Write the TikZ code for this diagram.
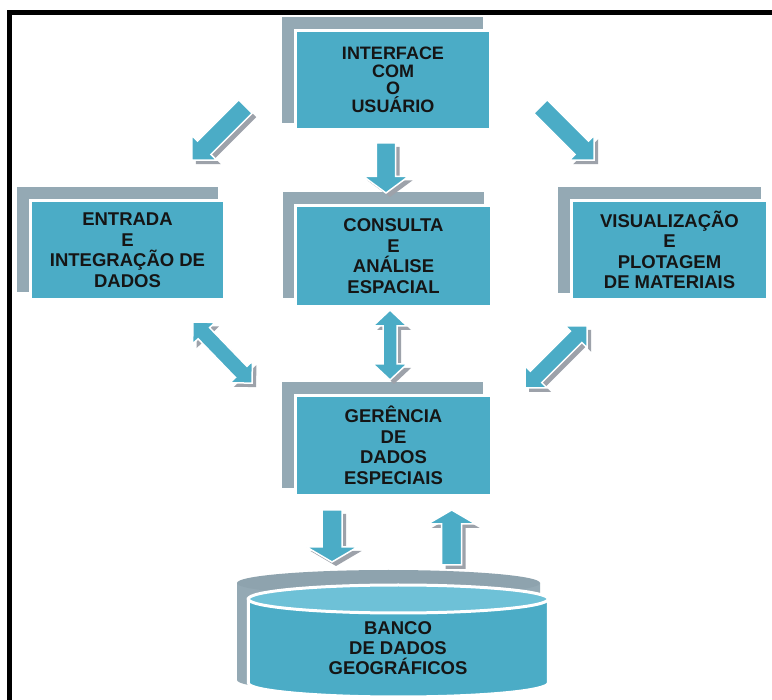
\documentclass[tikz,border=0pt]{standalone}
\usepackage{fontspec}
\setmainfont{Liberation Sans}
\definecolor{tealbox}{HTML}{4BACC6}
\definecolor{backgray}{HTML}{94A9B4}
\definecolor{backtop}{HTML}{8EA3AE}
\definecolor{shadowgray}{HTML}{9DA2AA}
\definecolor{toplight}{HTML}{6EC1D7}
\definecolor{txt}{HTML}{151515}
\tikzset{
  backbox/.style={fill=backgray},
  frontbox/.style={fill=tealbox, draw=white, line width=3pt, inner sep=0pt,
    align=center, text=txt, font=\bfseries\fontsize{18.5}{20.5}\selectfont},
  tightfont/.style={font=\bfseries\fontsize{18}{17.5}\selectfont},
  arrshadow/.style={fill=shadowgray},
  arrfront/.style={fill=tealbox, draw=white, line width=1.5pt},
  frame/.style={fill=black}
}
% single block arrow: x, y (tail centre), angle, length, shaft half-width, head half-width, head length
\newcommand\blkarrow[7]{%
  \fill[arrshadow, shift={(#1+4,#2+4)}, rotate=#3]
    (0,-#5) -- (#4-#7,-#5) -- (#4-#7,-#6) -- (#4,0) -- (#4-#7,#6) -- (#4-#7,#5) -- (0,#5) -- cycle;
  \filldraw[arrfront, shift={(#1,#2)}, rotate=#3]
    (0,-#5) -- (#4-#7,-#5) -- (#4-#7,-#6) -- (#4,0) -- (#4-#7,#6) -- (#4-#7,#5) -- (0,#5) -- cycle;}
% double block arrow: x, y (one tip), angle, length, shaft half-width, head half-width, head length
\newcommand\dblarrow[7]{%
  \fill[arrshadow, shift={(#1+4,#2+4)}, rotate=#3]
    (0,0) -- (#7,-#6) -- (#7,-#5) -- (#4-#7,-#5) -- (#4-#7,-#6) -- (#4,0) -- (#4-#7,#6) -- (#4-#7,#5) -- (#7,#5) -- (#7,#6) -- cycle;
  \filldraw[arrfront, shift={(#1,#2)}, rotate=#3]
    (0,0) -- (#7,-#6) -- (#7,-#5) -- (#4-#7,-#5) -- (#4-#7,-#6) -- (#4,0) -- (#4-#7,#6) -- (#4-#7,#5) -- (#7,#5) -- (#7,#6) -- cycle;}
\begin{document}
\begin{tikzpicture}[x=1pt,y=-1pt]
\useasboundingbox (0,0) rectangle (772,700);
\fill[white] (0,0) rectangle (772,700);
% frame
\fill[frame] (7,10) rectangle (772,15);
\fill[frame] (7,10) rectangle (12,700);

% boxes
\fill[backbox] (282,17) rectangle (483,123);
\node[frontbox, tightfont, minimum width=195pt, minimum height=99pt] (ui) at (393,80)
  {INTERFACE\\COM\\O\\USUÁRIO};

\fill[backbox] (17,187) rectangle (218,292);
\node[frontbox, minimum width=194pt, minimum height=99pt] (entrada) at (127.5,250)
  {ENTRADA\\E\\INTEGRAÇÃO DE\\DADOS};

\fill[backbox] (283,192) rectangle (484,298);
\node[frontbox, minimum width=196pt, minimum height=101pt] (consulta) at (393.5,256)
  {CONSULTA\\E\\ANÁLISE\\ESPACIAL};

\fill[backbox] (558,187) rectangle (761,293);
\node[frontbox, minimum width=196pt, minimum height=99pt] (visual) at (669.5,250)
  {VISUALIZAÇÃO\\E\\PLOTAGEM\\DE MATERIAIS};

\fill[backbox] (282,382) rectangle (483,488);
\node[frontbox, minimum width=196pt, minimum height=100pt] (gerencia) at (393.5,445.5)
  {GERÊNCIA\\DE\\DADOS\\ESPECIAIS};

% cylinder (back)
\fill[backgray] (237,583) -- (237,680) arc[start angle=180,end angle=360,x radius=151.5pt,y radius=13pt] -- (540,583) -- cycle;
\fill[backtop] (388.5,583) ellipse[x radius=151.5pt,y radius=13pt];
% cylinder (front)
\filldraw[fill=tealbox, draw=white, line width=3pt] (248.3,599) -- (248.3,683)
  arc[start angle=180,end angle=360,x radius=150pt,y radius=14pt] -- (548.3,599) -- cycle;
\filldraw[fill=toplight, draw=white, line width=3pt] (398.3,599) ellipse[x radius=150pt,y radius=14pt];
\node[align=center, text=txt, font=\bfseries\fontsize{18.5}{20}\selectfont] (db) at (398,648)
  {BANCO\\DE DADOS\\GEOGRÁFICOS};

% arrows
\blkarrow{245.5}{106.5}{-135}{76}{9.5}{17.7}{17.7}
\blkarrow{540.5}{106.5}{-45}{76}{9.5}{17.7}{17.7}
\blkarrow{386}{143}{-90}{50}{9.7}{22.5}{16.6}
\dblarrow{390}{380}{90}{70}{7}{17}{16}
\dblarrow{193}{322}{-46}{85}{8}{15.6}{15.6}
\dblarrow{525}{388}{45}{88}{8}{15.6}{15.6}
\blkarrow{332}{510}{-90}{52}{10}{25.5}{15}
\blkarrow{451.7}{565}{90}{55}{10}{24}{14}
\end{tikzpicture}
\end{document}
